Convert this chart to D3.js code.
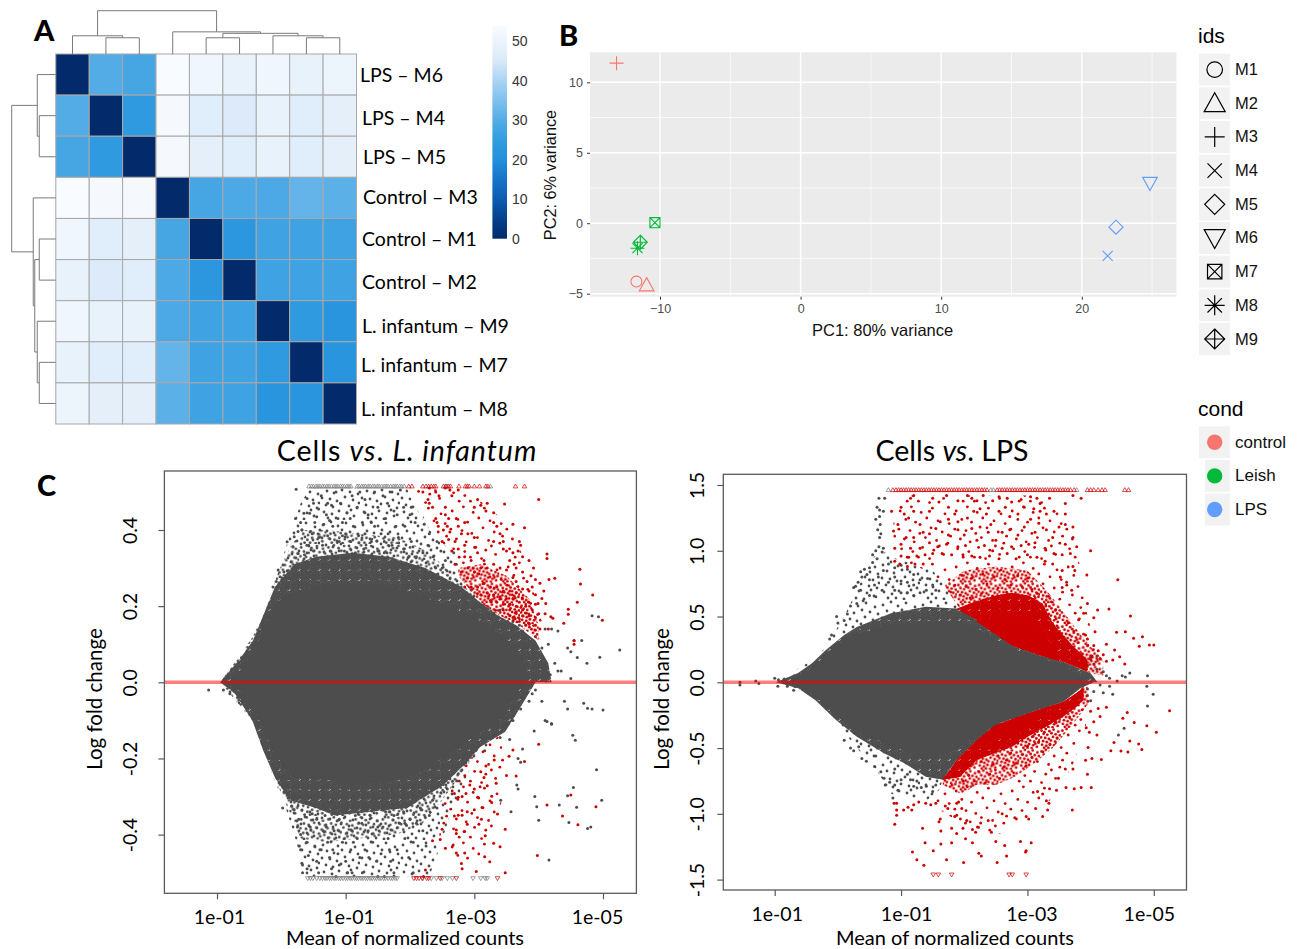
<!DOCTYPE html>
<html><head><meta charset="utf-8">
<script src="https://cdn.jsdelivr.net/npm/d3@7"></script>
<style>html,body{margin:0;padding:0;background:#fff}svg{display:block}
.cal{font-family:Lato,"Open Sans",sans-serif;fill:#000}
.hel{font-family:"Liberation Sans",Arial,sans-serif}
</style></head><body><div id="c"></div>
<script>
// ---------- Panel A data ----------
const rowLabels=["LPS – M6","LPS – M4","LPS – M5","Control – M3","Control – M1","Control – M2","L. infantum – M9","L. infantum – M7","L. infantum – M8"];
const distRow0=[0,30,28,54,51,49,51,49,50];
const distRow1=[30,0,24,53,47,46,49,47,48];
const distRow2=[28,24,0,53,48,47,49,47,48];
const distRow3=[54,53,53,0,28,29,29,32,31];
const distRow4=[51,47,48,28,0,23,27,27,27];
const distRow5=[49,46,47,29,23,0,27,27,27];
const distRow6=[51,49,49,29,27,27,0,24,22];
const distRow7=[49,47,47,32,27,27,24,0,22];
const distRow8=[50,48,48,31,27,27,22,22,0];
const distMatrix=[distRow0,distRow1,distRow2,distRow3,distRow4,distRow5,distRow6,distRow7,distRow8];
const legendTicks=[0,10,20,30,40,50];
const heatStops=[0,5,10,15,20,25,30,35,40,45,50,54];
const heatColors=["#032a6a","#06408c","#0b5cb0","#1474c8","#2390dc","#329ce0","#53ace6","#7dc0ee","#a9d3f3","#d8e8f8","#ecf4fc","#f8fbff"];
const dendroTree={h:44,c:[{h:18.5,c:[0,{h:16.5,c:[1,2]}]},{h:22.5,c:[3,{h:21,c:[{h:16.5,c:[4,5]},{h:18.5,c:[6,{h:16.5,c:[7,8]}]}]}]}]};

// ---------- Panel B data ----------
const pcaIds=["M1","M2","M3","M4","M5","M6","M7","M8","M9"];
const pcaX=[-11.68,-10.95,-13.09,21.84,22.43,24.85,-10.36,-11.6,-11.4];
const pcaY=[-4.14,-4.38,11.36,-2.32,-0.28,2.84,0.04,-1.77,-1.35];
const pcaCond=["control","control","control","LPS","LPS","LPS","Leish","Leish","Leish"];
const condNames=["control","Leish","LPS"];
const condColors=["#F8766D","#00BA38","#619CFF"];
const pcaXTicks=[-10,0,10,20], pcaYTicks=[-5,0,5,10], pcaXMinor=[-5,5,15,25], pcaYMinor=[-2.5,2.5,7.5];

// ---------- Panel C data: [log10 mean axis position, log fold change] ----------
const maTickVals=[1,-1,-3,-5];
const maTickLabels=["1e-01","1e-01","1e-03","1e-05"];
const leftYTicks=[-0.4,-0.2,0,0.2,0.4];
const rightYTicks=[-1.5,-1,-0.5,0,0.5,1,1.5];
// density zones of the left cloud: outlines
const leftSolidTop=[[.8,0],[.6,.04],[.4,.09],[.22,.16],[.05,.21],[-.2,.235],[-.6,.25],[-1.1,.26],[-1.7,.25],[-2.2,.225],[-2.6,.2],[-3,.17],[-3.4,.125],[-3.7,.08],[-3.85,0]];
const leftSolidBottom=[[.8,0],[.6,-.03],[.4,-.08],[.2,-.15],[.05,-.2],[-.2,-.25],[-.6,-.25],[-1.1,-.27],[-1.7,-.26],[-2.2,-.23],[-2.6,-.19],[-3,-.14],[-3.4,-.1],[-3.6,-.04],[-3.8,0]];
const leftCloudTop=[[.95,0],[.66,.058],[.44,.11],[.27,.18],[.1,.25],[-.2,.31],[-.54,.33],[-1.11,.34],[-1.67,.33],[-2.24,.3],[-2.52,.275],[-2.8,.25],[-3.09,.21],[-3.37,.175],[-3.65,.15],[-3.95,.11],[-4.15,.05],[-4.2,0]];
const leftCloudBottom=[[.95,0],[.72,-.03],[.45,-.1],[.28,-.18],[.1,-.25],[-.13,-.31],[-.54,-.33],[-.83,-.35],[-1.39,-.34],[-1.96,-.33],[-2.52,-.27],[-2.86,-.214],[-3.09,-.17],[-3.48,-.13],[-3.7,-.07],[-3.95,0]];
const leftMidTop=[[.95,0],[.44,.12],[.2,.21],[.05,.29],[-.15,.36],[-.35,.4],[-.7,.4],[-1.2,.39],[-1.8,.38],[-2.2,.35],[-2.5,.31],[-2.8,.26],[-3.09,.21],[-3.65,.15],[-4.2,0]];
const leftMidBottom=[[.95,0],[.45,-.1],[.2,-.2],[.03,-.28],[-.15,-.35],[-.3,-.41],[-.7,-.42],[-1.2,-.41],[-1.8,-.4],[-2.2,-.37],[-2.5,-.31],[-2.8,-.24],[-3.09,-.17],[-3.48,-.13],[-3.95,0]];
const leftOuterTop=[[.95,0],[.44,.11],[.27,.18],[.1,.26],[-.1,.37],[-.3,.47],[-.45,.51],[-1.95,.51],[-2.05,.47],[-2.3,.4],[-2.6,.35],[-2.75,.29],[-3.09,.21],[-3.65,.15],[-3.95,.11],[-4.2,0]];
const leftOuterBottom=[[.95,0],[.45,-.1],[.28,-.18],[.1,-.26],[-.05,-.32],[-.2,-.4],[-.3,-.46],[-.38,-.51],[-2.3,-.51],[-2.45,-.44],[-2.6,-.36],[-2.8,-.28],[-3,-.2],[-3.48,-.13],[-3.95,0]];
const leftRedSparseTop=[[-2.1,.51],[-2.9,.5],[-3.3,.45],[-3.65,.38],[-3.85,.28],[-4.05,.16]];
const leftRedSparseBase=[[-2.1,.47],[-2.3,.4],[-2.6,.35],[-2.75,.29],[-3.09,.21],[-3.4,.175],[-3.7,.15],[-4.05,.11]];
const leftRedMidTop=[[-2.75,.3],[-3.1,.31],[-3.5,.28],[-3.85,.22],[-4,.15]];
const leftRedMidBase=[[-2.75,.28],[-3.09,.21],[-3.4,.175],[-3.7,.15],[-4,.11]];
const leftRedLowTop=[[-2.5,-.27],[-2.85,-.22],[-3.1,-.17],[-3.4,-.14]];
const leftRedLowBase=[[-2.45,-.42],[-2.8,-.48],[-3.1,-.48],[-3.35,-.38],[-3.5,-.24]];
const leftGrayUp=[[-.23,.507],[-.4,.483],[-.35,.444],[-.44,.444],[-.26,.396],[-.2,.382],[-.09,.369],[-.32,.4],[-.18,.356],[-.26,.338],[-.04,.29],[.05,.295],[.02,.277],[.13,.25],[.08,.265],[-.5,.47],[-.58,.455],[-.62,.49],[-.7,.44],[-.66,.415],[-.52,.42],[-.48,.39],[-.58,.38],[-.42,.36],[-.36,.335],[-.5,.345],[-.64,.36],[-.72,.385],[-.78,.465],[-.85,.5],[-.92,.47],[-.88,.43],[-.8,.41],[-.95,.42],[-1.02,.445],[-1,.39],[-.9,.37],[-.76,.345],[-.84,.33],[-.98,.345],[-1.08,.37],[-1.12,.41],[-1.18,.46],[-1.1,.49],[-1.22,.5],[-1.3,.48],[-1.35,.44],[-1.26,.42],[-1.2,.385],[-1.3,.39],[-1.15,.34],[-1.28,.35],[-1.4,.37],[-1.45,.41],[-1.5,.46],[-1.45,.5],[-1.58,.49],[-1.65,.47],[-1.62,.43],[-1.55,.39],[-1.66,.39],[-1.5,.345],[-1.6,.34],[-1.72,.36],[-1.78,.41],[-1.75,.45],[-1.72,.5],[-1.85,.505],[-1.9,.46],[-1.82,.38],[-1.9,.35],[-2,.44],[-2.02,.46],[-2.08,.42],[-2.02,.37],[-2.1,.33],[-1.98,.33],[-2.22,.415],[-2.3,.39],[-2.28,.36],[-2.2,.34],[-2.36,.33],[-2.42,.37],[-2.48,.345],[-2.55,.32],[-2.5,.3],[-2.62,.29],[-2.68,.34],[-2.72,.31],[-2.4,.3],[-.6,.4],[-.75,.425],[-.95,.385],[-1.07,.43],[-1.4,.42],[-1.6,.37],[-1.92,.41],[-1.8,.44],[-1.3,.445],[-.72,.47],[-.55,.435],[-.3,.42],[-.22,.43],[-3.4,.19],[-3.55,.175],[-3.7,.15],[-3.75,.135],[-3.85,.11],[-3.95,.12],[-4.05,.09],[-3.9,.06],[-4,.04],[-4.1,.03],[-4.18,.02],[-4.25,.05],[-4.3,.03],[-3.6,.16],[-4.1,.14],[-4.2,.14],[-4.3,.135],[-4.15,.1],[-4.45,.09],[-4.5,.08],[-4.6,.065],[-4.55,.11],[-4.67,.11],[-4.75,.05],[-4.83,.175],[-4.93,.172],[-4.95,.066],[-5.26,.085],[-4.35,.03],[-4.5,.01]];
const leftGrayDown=[[-.45,-.3],[-.3,-.3],[-.2,-.3],[-.2,-.335],[-.16,-.325],[-.05,-.245],[.02,-.25],[.12,-.19],[.18,-.2],[.28,-.15],[.35,-.11],[.45,-.06],[.6,-.05],[.9,-.02],[1.13,-.02],[.8,-.03],[.65,-.035],[-.02,-.33],[-.25,-.38],[-.27,-.36],[-.3,-.4],[-.28,-.43],[-.3,-.44],[-.32,-.475],[-.33,-.48],[-.33,-.5],[-.4,-.49],[-.42,-.455],[-.4,-.42],[-.45,-.38],[-.48,-.345],[-.52,-.43],[-.55,-.47],[-.58,-.5],[-.62,-.44],[-.65,-.39],[-.68,-.35],[-.72,-.42],[-.75,-.46],[-.78,-.49],[-.85,-.51],[-.88,-.45],[-.82,-.39],[-.9,-.36],[-.95,-.42],[-1,-.47],[-1.03,-.5],[-1.08,-.44],[-1.1,-.39],[-1.15,-.35],[-1.18,-.41],[-1.22,-.46],[-1.26,-.5],[-1.3,-.44],[-1.35,-.39],[-1.38,-.35],[-1.42,-.42],[-1.48,-.47],[-1.5,-.51],[-1.55,-.45],[-1.58,-.38],[-1.62,-.34],[-1.66,-.41],[-1.7,-.47],[-1.75,-.5],[-1.8,-.44],[-1.84,-.37],[-1.9,-.34],[-1.92,-.41],[-1.98,-.46],[-2.05,-.42],[-2.1,-.37],[-2.16,-.33],[-2.2,-.39],[-2.25,-.43],[-2.3,-.35],[-2.35,-.31],[-2.42,-.33],[-2.48,-.29],[-2.58,-.28],[-2.66,-.26],[-2.75,-.24],[-2.05,-.5],[-1.6,-.51],[-1.1,-.5],[-.6,-.44],[-.7,-.38],[-1,-.34],[-1.25,-.37],[-1.5,-.38],[-1.75,-.35],[-2,-.36],[-.55,-.36],[-.8,-.44],[-1.12,-.42],[-1.36,-.46],[-.9,-.48],[-1.68,-.44],[-1.92,-.37],[-3.16,-.18],[-3.4,-.145],[-3.5,-.11],[-3.6,-.1],[-3.55,-.15],[-3.72,-.07],[-3.85,-.05],[-3.9,-.03],[-3.95,-.02],[-4.05,-.05],[-4.1,-.1],[-4.2,-.11],[-4.4,-.05],[-4.45,-.07],[-4.7,-.055],[-4.76,-.068],[-4.83,-.07],[-5,-.073],[-4.53,-.139],[-4.57,-.152],[-4.9,-.23],[-4.54,-.276],[-4.45,-.298],[-4.98,-.31],[-4.59,-.328],[-3.94,-.3],[-3.97,-.327],[-4.32,-.322],[-4,-.362],[-4.47,-.368],[-4.76,-.384],[-4.81,-.38],[-4.16,-.467],[-4.13,-.103],[-4.2,-.108],[-3.93,-.128],[-3.66,-.27],[-3.68,-.28],[-3.57,-.34],[-3.41,-.31],[-3.72,-.21],[-3.68,-.2],[-3.75,-.175]];
const leftRedUp=[[-4,.48],[-3.47,.468],[-3.78,.406],[-3.6,.415],[-4.13,.337],[-4.13,.325],[-4.64,.297],[-4.65,.258],[-4.84,.229],[-4.99,.163],[-4.6,.21],[-4.46,.192],[-4.46,.179],[-4.39,.155],[-4.55,.109],[-4.55,.1],[-4.25,.273],[-4.16,.27],[-4.05,.22],[-4.11,.207],[-3.99,.207],[-4.19,.172],[-4.22,.168],[-3.05,.48],[-3.0,.46],[-3.18,.45],[-3.1,.465],[-3.2,.47],[-3.3,.445],[-3.3,.42],[-3.35,.41],[-2.3,.51],[-2.4,.5],[-2.45,.49],[-2.28,.48],[-2.2,.5],[-2.3,.47],[-2.35,.46],[-2.55,.51],[-2.62,.505],[-2.65,.49],[-2.75,.505],[-2.55,.46],[-2.4,.43],[-2.42,.42],[-2.44,.41],[-2.55,.44],[-2.6,.43],[-2.58,.41],[-2.72,.43],[-2.75,.41],[-2.85,.42],[-2.52,.4],[-2.62,.395],[-2.5,.37],[-2.6,.375],[-2.7,.37],[-2.8,.39],[-2.9,.39],[-3.0,.38],[-3.02,.355],[-2.85,.36],[-2.75,.35],[-2.65,.345],[-2.7,.31],[-2.85,.33],[-2.95,.32],[-3.05,.34],[-3.15,.32],[-3.3,.37],[-3.4,.39],[-3.45,.37],[-3.45,.35],[-3.5,.345],[-3.7,.37],[-3.72,.36],[-3.68,.345],[-3.6,.34],[-3.55,.32],[-3.62,.31],[-3.75,.33],[-3.85,.32],[-3.65,.3],[-3.75,.29],[-3.88,.28],[-3.95,.27],[-3.9,.25],[-3.95,.23],[-3.85,.24],[-3.75,.245],[-3.65,.265],[-3.6,.275],[-3.4,.3],[-3.3,.31],[-3.2,.3],[-3.1,.3],[-3,.29],[-2.9,.3],[-2.8,.29],[-2.85,.25],[-2.95,.25],[-3.05,.25],[-3.15,.26],[-3.25,.25],[-3.35,.25],[-3.45,.24],[-3.55,.24],[-3.65,.235],[-3.75,.22],[-3.85,.21],[-3.95,.205],[-3.1,.23],[-3.2,.235],[-3.3,.23],[-3.4,.225],[-3.5,.22],[-3.6,.22],[-3.7,.21],[-3.8,.2],[-3.9,.19],[-3.25,.215],[-3.35,.21],[-3.45,.205],[-3.55,.205],[-3.65,.2],[-3.75,.19],[-3.85,.175],[-3.95,.17],[-3.45,.19],[-3.55,.19],[-3.65,.185],[-3.75,.175],[-3.85,.155],[-3.95,.15],[-3.6,.17],[-3.7,.16],[-3.8,.15],[-3.5,.295],[-3.82,.265],[-3.92,.3],[-4.02,.26],[-4.08,.24],[-4.1,.18],[-4,.18],[-4.02,.14],[-4.15,.14]];
const leftRedDown=[[-4.0,-.163],[-3.78,-.208],[-3.6,-.178],[-3.54,-.194],[-3.31,-.204],[-3.5,-.245],[-3.65,-.246],[-3.34,-.265],[-3.2,-.272],[-3.09,-.274],[-4.13,-.322],[-4.5,-.296],[-4.89,-.327],[-4.37,-.351],[-4.61,-.374],[-3.98,-.455],[-3.48,-.5],[-3.03,-.497],[-3.24,-.471],[-3.16,-.458],[-3.4,-.432],[-3.3,-.423],[-3.17,-.403],[-3.48,-.386],[-3.07,-.373],[-3.11,-.36],[-3.36,-.346],[-3.12,-.329],[-3,-.335],[-3.27,-.316],[-3.27,-.299],[-3.05,-.302],[-2.81,-.3],[-2.87,-.292],[-2.69,-.292],[-2.75,-.302],[-2.69,-.351],[-2.75,-.349],[-2.89,-.34],[-2.81,-.349],[-2.89,-.373],[-2.72,-.388],[-2.84,-.392],[-2.72,-.397],[-2.5,-.386],[-2.47,-.413],[-2.35,-.416],[-2.55,-.436],[-2.67,-.427],[-2.72,-.448],[-2.85,-.448],[-2.8,-.476],[-2.81,-.49],[-2.24,-.493],[-2.21,-.51],[-3,-.28],[-2.93,-.27],[-3.15,-.25],[-3.1,-.235],[-3.18,-.22]];
const leftTriGrayUp=[-.43,-.47,-.5,-.54,-.57,-.6,-.64,-.67,-.71,-.74,-.78,-.82,-.85,-.88,-.92,-.95,-.98,-1.02,-1.05,-1.08,-1.18,-1.21,-1.25,-1.28,-1.31,-1.35,-1.38,-1.42,-1.45,-1.49,-1.52,-1.56,-1.6,-1.63,-1.66,-1.7,-1.74,-1.77,-1.8,-1.84,-1.87,-1.91,-2.55,-2.58,-3.25];
const leftTriRedUp=[-1.98,-2.03,-2.2,-2.25,-2.29,-2.33,-2.37,-2.4,-2.52,-2.56,-2.6,-2.63,-2.76,-2.86,-2.89,-2.92,-3.0,-3.08,-3.18,-3.21,-3.64,-3.78];
const leftTriGrayDown=[-.41,-.45,-.49,-.55,-.6,-.64,-.68,-.71,-.75,-.78,-.82,-.85,-.89,-.92,-.96,-1,-1.03,-1.07,-1.1,-1.14,-1.17,-1.2,-1.24,-1.27,-1.31,-1.34,-1.38,-1.41,-1.45,-1.48,-1.52,-1.55,-1.59,-1.62,-1.66,-1.7,-1.73,-1.77,-1.8,-2.2,-2.33,-2.41,-2.5,-2.58,-2.66,-2.98,-3.1,-3.17,-3.2];
const leftTriRedDown=[-2.06,-2.1,-2.14,-2.19,-2.26,-2.29,-2.47,-2.72,-3.36];
// density zones of the right cloud
const rightSolidTop=[[.75,0],[.6,.05],[.38,.12],[.16,.22],[-.1,.32],[-.3,.37],[-.84,.43],[-1.39,.46],[-1.9,.47],[-2.2,.4],[-2.48,.33],[-2.8,.25],[-3.18,.19],[-3.57,.13],[-3.85,.03],[-3.95,0]];
const rightSolidBottom=[[.8,0],[.5,-.05],[.3,-.13],[0,-.26],[-.3,-.37],[-.73,-.46],[-1.06,-.52],[-1.39,-.58],[-1.66,-.55],[-1.88,-.5],[-2.2,-.41],[-2.58,-.3],[-3.02,-.226],[-3.57,-.13],[-3.8,-.04],[-3.95,0]];
const rightCloudTop=[[.98,0],[.63,.07],[.41,.144],[.19,.246],[-.1,.36],[-.3,.42],[-.84,.525],[-1.39,.575],[-1.93,.56],[-2.2,.474],[-2.48,.373],[-2.8,.27],[-3.18,.208],[-3.57,.157],[-4,.068],[-4.11,0]];
const rightCloudBottom=[[.98,0],[.63,-.046],[.36,-.135],[.03,-.287],[-.3,-.414],[-.73,-.54],[-1.06,-.617],[-1.39,-.718],[-1.66,-.74],[-1.88,-.59],[-2.2,-.44],[-2.58,-.31],[-3.02,-.236],[-3.57,-.147],[-3.84,-.046],[-4.05,0]];
const rightOuterTop=[[.98,0],[.3,.2],[.12,.33],[-.1,.5],[-.3,.7],[-.55,.95],[-.8,1],[-.85,.95],[-1.2,.9],[-1.5,.85],[-1.75,.7],[-1.93,.56],[-2.2,.474],[-4.11,0]];
const rightOuterBottom=[[.98,0],[.3,-.1],[0,-.32],[-.3,-.5],[-.6,-.66],[-.85,-.85],[-1.15,-.88],[-1.4,-.9],[-1.6,-.82],[-1.66,-.74],[-4.05,0]];
const rightRedSparseTop=[[-.88,1.38],[-1.1,1.42],[-3.2,1.42],[-3.6,1.3],[-3.78,1.05],[-3.85,.8],[-3.95,.5],[-4.1,.25]];
const rightRedSparseBase=[[-.88,.95],[-1.4,.85],[-1.75,.7],[-1.93,.56],[-2.2,.474],[-2.8,.27],[-3.57,.157],[-4.1,.068]];
const rightRedMidTop=[[-1.7,.74],[-2,.85],[-2.5,.88],[-3,.85],[-3.3,.7],[-3.5,.58],[-3.75,.42],[-4,.27],[-4.2,.17]];
const rightRedMidBase=[[-1.7,.72],[-1.93,.56],[-2.2,.474],[-2.48,.373],[-2.8,.27],[-3.18,.208],[-3.57,.157],[-4,.068],[-4.2,.05]];
const rightRedDenseTop=[[-1.88,.56],[-2.2,.62],[-2.5,.66],[-2.75,.68],[-3.02,.66],[-3.24,.6],[-3.4,.45],[-3.67,.3],[-3.95,.17]];
const rightRedDenseBase=[[-1.88,.56],[-2.2,.474],[-2.48,.373],[-2.8,.27],[-3.18,.208],[-3.57,.157],[-3.95,.08]];
const rightRedSolidTop=[[-2.2,.48],[-2.48,.48],[-2.75,.5],[-3.02,.5],[-3.2,.42],[-3.35,.3],[-3.5,.22]];
const rightRedSolidBase=[[-2.2,.46],[-2.48,.37],[-2.75,.28],[-3.02,.235],[-3.24,.2],[-3.5,.16]];
const rightLowSparseTop=[[-1.55,-.8],[-1.88,-.59],[-2.2,-.44],[-2.58,-.31],[-3.02,-.236],[-3.57,-.147],[-3.84,-.046]];
const rightLowSparseBase=[[-1.55,-.95],[-2.2,-1.15],[-2.6,-1.15],[-3,-1],[-3.35,-.9],[-3.7,-.65],[-3.9,-.4],[-4,-.1]];
const rightLowMidBase=[[-1.66,-.78],[-1.95,-.85],[-2.2,-.78],[-2.5,-.78],[-2.8,-.72],[-3.1,-.62],[-3.4,-.5],[-3.7,-.33],[-3.95,-.17]];
const rightLowMidTop=[[-1.66,-.74],[-1.88,-.59],[-2.2,-.44],[-2.58,-.31],[-3.02,-.236],[-3.57,-.147],[-3.95,-.03]];
const rightRedBandLow=[[-1.66,-.74],[-1.93,-.72],[-2.2,-.59],[-2.48,-.54],[-2.75,-.49],[-3.02,-.41],[-3.29,-.34],[-3.57,-.26],[-3.78,-.185],[-3.89,-.135]];
const rightRedBandLowBase=[[-1.66,-.74],[-1.9,-.58],[-2.2,-.44],[-2.48,-.33],[-2.75,-.28],[-3.02,-.236],[-3.29,-.19],[-3.57,-.147],[-3.78,-.08],[-3.89,-.03]];
const rightLowSolidBase=[[-2.15,-.5],[-2.48,-.45],[-2.75,-.4],[-3.02,-.33],[-3.25,-.25]];
const rightLowSolidTop=[[-2.15,-.46],[-2.48,-.33],[-2.75,-.28],[-3.02,-.236],[-3.25,-.2]];
const rightGrayUp=[[-.65,1.4],[-.74,1.4],[-.62,1.33],[-.66,1.31],[-.72,1.3],[-.6,1.24],[-.66,1.26],[-.67,1.2],[-.63,1.16],[-.68,1.13],[-.66,1.1],[-.7,.99],[-.6,1],[-.65,1.03],[-.72,1.02],[-.55,.97],[-.62,.94],[-.55,.91],[-.5,.87],[-.42,.86],[-.36,.84],[-.46,.82],[-.38,.8],[-.32,.76],[-.28,.73],[-.36,.7],[-.25,.72],[-.5,.78],[-.58,.74],[-.64,.8],[-.72,.85],[-.8,.9],[-.9,.87],[-1,.89],[-1.1,.86],[-1.2,.82],[-.9,.8],[-1,.77],[-1.1,.76],[-1.2,.74],[-1.3,.78],[-1.42,.79],[-1.5,.74],[-1.55,.7],[-1.4,.7],[-1.3,.68],[-1.2,.66],[-1.1,.68],[-1,.68],[-.9,.7],[-.8,.76],[-.7,.7],[-.6,.65],[-.5,.66],[-.4,.62],[-.3,.6],[-.2,.58],[-.15,.52],[-.1,.47],[0,.45],[.02,.5],[.1,.36],[.13,.33],[-3.85,.16],[-3.95,.13],[-4.05,.14],[-4.1,.1],[-4.2,.08],[-4.25,.05],[-4.3,.03],[-4.42,.01],[-4.55,.04],[-4.62,.07],[-4.5,.05],[-4.9,.05],[-4.1,.2],[-4,.19],[1.3,.01],[1.55,0],[1.0,.03],[.94,.02],[.85,.02],[.72,.03]];
const rightGrayDown=[[-.95,-.82],[-.87,-.88],[-.73,-.73],[-.75,-.78],[-.82,-.76],[-.9,-.78],[-.68,-.68],[-.58,-.64],[-.45,-.6],[-.38,-.58],[-.33,-.49],[-.2,-.5],[-.1,-.44],[-.25,-.52],[-1.0,-.74],[-1.1,-.7],[-1.15,-.74],[-1.25,-.75],[-1.32,-.8],[-1.4,-.79],[-1.5,-.83],[-1.55,-.78],[-1.2,-.79],[-.6,-.56],[-.9,-.66],[-4.9,-.18],[-4.99,-.09],[-4.89,-.03],[-4.53,-.35],[-4.44,-.4],[-4.35,-.09],[-4.2,-.08],[-4.05,-.07],[-4.3,-.03],[-4.15,-.02],[-3.95,-.05],[-3.95,-.1],[-4,-.14],[-3.85,-.1],[1.55,-.02],[1.25,-.01],[.95,-.03],[.8,-.03],[.7,-.06]];
const rightRedUp=[[-4,1],[-3.94,.815],[-4.43,.78],[-4.63,.505],[-4.55,.385],[-4.41,.38],[-4.68,.335],[-4.82,.347],[-4.77,.275],[-4.93,.283],[-5,.283],[-4.29,.557],[-4.11,.55],[-4.05,.49],[-3.95,.6],[-3.81,.475],[-3.89,.525],[-4.07,.385],[-3.92,.36],[-4.25,.29],[-4.38,.245],[-4.35,.17],[-4.46,.195],[-4.54,.14],
[-3.72,1.42],[-3.85,1.4],[-1.2,1.42],[-1.15,1.4],[-1.5,1.4],[-1.72,1.42],[-1.9,1.38],[-2.05,1.42],[-2.12,1.4],[-2.2,1.38],[-2.3,1.42],[-2.45,1.38],[-2.55,1.41],[-2.68,1.4],[-2.75,1.37],[-2.9,1.39],[-3.05,1.41],[-3.15,1.4],[-3.2,1.36],[-3.35,1.4],[-3.6,1.36],[-1.0,1.33],[-.85,1.3],[-1.05,1.28],[-1.2,1.3],[-1.3,1.2],[-.95,1.2],[-.88,1.15],[-1.12,1.25],[-1.45,1.3],[-1.6,1.37],[-1.75,1.33],[-1.85,1.28],[-1.62,1.22],[-1.75,1.24],[-1.9,1.22],[-2.05,1.25],[-2.15,1.3],[-2.25,1.32],[-2.35,1.28],[-2.42,1.2],[-2.55,1.3],[-2.65,1.33],[-2.72,1.26],[-2.85,1.28],[-2.95,1.33],[-3.1,1.32],[-3.2,1.3],[-3.05,1.24],[-3.18,1.21],[-3.3,1.28],[-3.42,1.3],[-3.6,1.28],[-3.6,1.2],[-3.5,1.18],[-3.72,1.18],[-3.72,1.1],[-3.6,1.05],[-3.4,1.1],[-3.3,1.16],[-3.12,1.14],[-2.95,1.18],[-2.85,1.12],[-2.72,1.16],[-2.6,1.14],[-2.5,1.08],[-2.38,1.14],[-2.25,1.18],[-2.12,1.17],[-2.0,1.12],[-1.9,1.16],[-1.75,1.12],[-1.55,1.17],[-1.45,1.13],[-1.35,1.14],[-1.2,1.1],[-1.08,1.1],[-1.0,1.05],[-.9,1.02],[-1.15,1.02],[-1.3,1.02],[-1.45,1.06],[-1.58,1.03],[-1.72,1.05],[-1.9,1.03],[-2.02,1.04],[-2.2,1.08],[-2.32,1.04],[-2.45,1],[-2.6,1.02],[-2.75,1.03],[-2.9,1.04],[-3.02,1.05],[-3.12,1.06],[-3.28,1.02],[-3.42,.98],[-3.55,.97],[-3.68,.98],[-3.78,1.03],[-3.72,.88],[-3.75,.85],[-3.55,.85],[-3.4,.9],[-3.28,.92],[-3.15,.95],[-3.0,.97],[-2.82,.94],[-2.68,.98],[-2.55,.94],[-2.4,.96],[-2.25,.95],[-2.12,.96],[-1.98,.97],[-1.8,.97],[-1.65,.98],[-1.5,.98],[-1.38,.97],[-1.25,.96],[-1.12,.95],[-1,.96],[-.9,.92],[-.98,.9],[-1.1,.88],[-1.22,.9],[-1.35,.9],[-3.52,.8],[-3.62,.76],[-3.7,.7],[-3.55,.72],[-3.95,.33],[-4.05,.28],[-4.12,.24],[-4.2,.21],[-4.02,.2],[-4.15,.18],[-4.25,.16]];
const rightRedDown=[[-.89,-.92],[-.93,-.92],[-.93,-.97],[-.93,-1.01],[-.9,-1.08],[-1.04,-.97],[-1.11,-.95],[-1.17,-.97],[-1.2,-.93],[-1.28,-.91],[-1.39,-.92],[-1.47,-.93],[-1.55,-.92],[-1.7,-.94],[-1.74,-.96],[-1.88,-.92],[-1.91,-.91],[-1.96,-.96],[-1.34,-1.11],[-1.38,-1.22],[-1.18,-1.29],[-1.25,-1.35],[-1.36,-1.39],[-1.51,-1.28],[-1.63,-1.23],[-1.8,-1.22],[-1.72,-1.35],[-1.99,-1.37],[-1.63,-1.13],[-1.8,-1.11],[-1.88,-1.15],[-1.6,-1.06],[-1.62,-1.04],[-1.85,-1.02],[-1.88,-1.01],[-2.02,-1.07],[-2.04,-1.05],[-1.98,-1.11],[-2.13,-1.12],[-2.18,-1.14],[-2.21,-1.1],[-2.26,-1.07],[-2.38,-1.05],[-2.43,-1.14],[-2.02,-1.19],[-2.13,-1.22],[-2.23,-1.3],[-2.27,-1.32],[-2.5,-1.21],[-2.64,-1.24],[-2.67,-1.32],[-2.52,-1.37],[-2.89,-1.21],[-3.06,-1.22],[-2.98,-1.28],[-2.97,-1.29],[-2.6,-1],[-2.8,-1.03],[-2.98,-1.02],[-3.02,-1.04],[-3.24,-1.02],[-3.13,-.96],[-3.32,-.97],[-3.34,-.92],[-3.3,-.9],[-3.71,-.97],[-3.24,-.85],[-3.16,-.83],[-3.35,-.81],[-3.46,-.82],[-3.61,-.8],[-3.74,-.81],[-3.85,-.8],[-4.01,-.8],[-3.95,-.7],[-3.72,-.66],[-3.6,-.66],[-3.49,-.73],[-5.25,-.216],[-5.04,-.38],[-4.89,-.33],[-4.81,-.51],[-4.76,-.47],[-4.62,-.447],[-4.69,-.305],[-4.58,-.229],[-4.51,-.274],[-4.59,-.53],[-4.48,-.523],[-4.32,-.52],[-4.37,-.457],[-4.17,-.587],[-4.02,-.579],[-3.92,-.592],[-3.96,-.495],[-3.93,-.345],[-3.98,-.38],[-4.1,-.4],[-4.05,-.3],[-4.15,-.26],[-4.12,-.2],[-4.25,-.19],[-4.0,-.22]];
const rightTriGrayUp=[-.8,-2.42,-2.46,-3.78];
const rightTriRedUp=[-.87,-.92,-.96,-1,-1.04,-1.08,-1.12,-1.16,-1.2,-1.24,-1.28,-1.32,-1.36,-1.4,-1.44,-1.48,-1.52,-1.56,-1.6,-1.64,-1.68,-1.72,-1.76,-1.8,-1.84,-1.88,-1.92,-1.96,-2,-2.04,-2.08,-2.12,-2.16,-2.2,-2.24,-2.28,-2.32,-2.36,-2.52,-2.56,-2.6,-2.64,-2.68,-2.72,-2.76,-2.8,-2.84,-2.88,-2.92,-2.96,-3,-3.04,-3.08,-3.12,-3.16,-3.2,-3.24,-3.28,-3.32,-3.36,-3.4,-3.44,-3.48,-3.52,-3.56,-3.6,-3.64,-3.68,-3.74,-3.95,-4,-4.05,-4.12,-4.18,-4.23,-4.54,-4.6];
const rightTriRedDown=[-1.51,-1.59,-1.8,-2.71,-2.76,-2.98];

const W=1302,H=949;
const svg=d3.select("#c").append("svg").attr("width",W).attr("height",H);
const defs=svg.append("defs");
defs.append("filter").attr("id","soft").append("feGaussianBlur").attr("stdDeviation",.45);

// speckle textures for the over-plotted density zones
const speckle=[[3,5],[11,2],[18,6],[26,3],[35,7],[7,11],[14,13],[22,10],[30,12],[38,14],[2,18],[10,19],[17,21],[25,17],[33,20],[6,25],[13,27],[21,24],[29,26],[37,28],[4,32],[12,34],[19,31],[27,33],[34,36],[8,38],[16,38],[24,39],[31,30],[39,23]];
function texture(id,col,s){
 const p=defs.append("pattern").attr("id",id).attr("patternUnits","userSpaceOnUse").attr("width",40*s).attr("height",40*s);
 p.selectAll("circle").data(speckle).join("circle").attr("cx",d=>d[0]*s).attr("cy",d=>d[1]*s).attr("r",1.4).attr("fill",col);
}
[["g","#4d4d4d"],["r","#cc0000"]].forEach(c=>{texture(c[0]+"X",c[1],1.4);texture(c[0]+"S",c[1],1);texture(c[0]+"N",c[1],.68);texture(c[0]+"M",c[1],.52);texture(c[0]+"D",c[1],.25);});

// ---------- Panel A ----------
(function(){
 const x=d3.scaleBand().domain(d3.range(9)).range([55.8,356.5]);
 const y=d3.scaleBand().domain(d3.range(9)).range([54,424]);
 const col=d3.scaleLinear().domain(heatStops).range(heatColors).clamp(true);
 const g=svg.append("g");
 const cells=distMatrix.flatMap((r,i)=>r.map((v,j)=>({i,j,v})));
 g.selectAll("rect.c").data(cells).join("rect").attr("class","c")
  .attr("x",d=>x(d.j)).attr("y",d=>y(d.i)).attr("width",x.bandwidth()).attr("height",y.bandwidth())
  .attr("fill",d=>col(d.v)).attr("stroke","#a8a8a8").attr("stroke-width",1);
 const topH=d3.scaleLinear().domain([0,44]).range([54,10.7]);
 const leftH=d3.scaleLinear().domain([0,44]).range([55.8,11.7]);
 function walk(n,pos,seg){
   if(typeof n==="number") return {p:pos(n),h:0};
   const k=n.c.map(c=>walk(c,pos,seg));
   seg(k[0].p,k[1].p,k[0].h,k[1].h,n.h);
   return {p:(k[0].p+k[1].p)/2,h:n.h};
 }
 const dg=g.append("g").attr("fill","none").attr("stroke","#7a7a7a").attr("stroke-width",1);
 walk(dendroTree,i=>x(i)+x.bandwidth()/2,(a,b,ha,hb,h)=>{
   dg.append("path").attr("d",`M${a},${topH(ha)}V${topH(h)}H${b}V${topH(hb)}`);});
 walk(dendroTree,i=>y(i)+y.bandwidth()/2,(a,b,ha,hb,h)=>{
   dg.append("path").attr("d",`M${leftH(ha)},${a}H${leftH(h)}V${b}H${leftH(hb)}`);});
 const lx=[360,362,363,363,362,362,362,361,361], ly=[75,118,157,197,239,282,326,365,409];
 g.selectAll("text.r").data(rowLabels).join("text").attr("class","cal r")
  .attr("x",(d,i)=>lx[i]).attr("y",(d,i)=>ly[i]+7).attr("font-size",19.5).text(d=>d);
 const s=d3.scaleLinear().domain([0,50]).range([238.7,41.3]);
 const dom=[53.9,0];
 const gr=defs.append("linearGradient").attr("id","hb").attr("x1",0).attr("x2",0).attr("y1",1).attr("y2",0);
 heatStops.forEach((v,i)=>gr.append("stop").attr("offset",v/54).attr("stop-color",heatColors[i]));
 g.append("rect").attr("x",492.4).attr("width",14.6).attr("y",s(dom[0])).attr("height",s(dom[1])-s(dom[0])).attr("fill","url(#hb)");
 const ax=g.append("g").attr("transform","translate(507,0)").call(d3.axisRight(s).tickValues(legendTicks).tickSize(0).tickPadding(5));
 ax.select(".domain").remove();
 ax.selectAll("text").attr("class","hel").attr("font-size",14).attr("fill","#333");
})();

[["A",34,41],["B",559,46],["C",37,496]].forEach(d=>svg.append("text").attr("class","cal").attr("x",d[1]).attr("y",d[2]).attr("font-size",29).attr("font-weight",900).text(d[0]));

function shapePath(id,r){
 const t=r*1.05, h=r;
 const P=(a,b)=>`M${a[0]},${a[1]}L${b[0]},${b[1]}`;
 const circ=`M${-r*.78},0A${r*.78},${r*.78} 0 1 0 ${r*.78},0A${r*.78},${r*.78} 0 1 0 ${-r*.78},0Z`;
 const plus=P([-h,0],[h,0])+P([0,-h],[0,h]);
 const k=h*.72, cross=P([-k,-k],[k,k])+P([-k,k],[k,-k]);
 const diamond=`M0,${-h}L${h},0L0,${h}L${-h},0Z`;
 const sq=`M${-k},${-k}H${k}V${k}H${-k}Z`;
 switch(id){
  case"M1":return circ;
  case"M2":return `M0,${-t}L${t},${t*.8}H${-t}Z`;
  case"M3":return plus;
  case"M4":return cross;
  case"M5":return diamond;
  case"M6":return `M0,${t}L${t},${-t*.8}H${-t}Z`;
  case"M7":return sq+cross;
  case"M8":return plus+cross;
  case"M9":return diamond+plus;
 }
}

// ---------- Panel B ----------
(function(){
 const x=d3.scaleLinear().domain([-10,20]).range([660,1081.8]);
 const y=d3.scaleLinear().domain([-5,10]).range([293.7,82.3]);
 const L=590,R=1176.5,T=52.3,B=296.7;
 const g=svg.append("g");
 g.append("rect").attr("x",L).attr("y",T).attr("width",R-L).attr("height",B-T).attr("fill","#ebebeb");
 g.selectAll("line.mx").data(pcaXMinor).join("line").attr("x1",x).attr("x2",x).attr("y1",T).attr("y2",B).attr("stroke","#fff").attr("stroke-width",.7);
 g.selectAll("line.my").data(pcaYMinor).join("line").attr("y1",y).attr("y2",y).attr("x1",L).attr("x2",R).attr("stroke","#fff").attr("stroke-width",.7);
 g.selectAll("line.Mx").data(pcaXTicks).join("line").attr("x1",x).attr("x2",x).attr("y1",T).attr("y2",B).attr("stroke","#fff").attr("stroke-width",1.4);
 g.selectAll("line.My").data(pcaYTicks).join("line").attr("y1",y).attr("y2",y).attr("x1",L).attr("x2",R).attr("stroke","#fff").attr("stroke-width",1.4);
 const ax=g.append("g").attr("transform",`translate(0,${B})`).call(d3.axisBottom(x).tickValues(pcaXTicks).tickSize(3).tickPadding(4));
 const ay=g.append("g").attr("transform",`translate(${L},0)`).call(d3.axisLeft(y).tickValues(pcaYTicks).tickSize(3).tickPadding(4));
 [ax,ay].forEach(a=>{a.select(".domain").remove();a.selectAll("line").attr("stroke","#333");a.selectAll("text").attr("class","hel").attr("font-size",12.5).attr("fill","#4d4d4d");});
 const cc=d3.scaleOrdinal(condNames,condColors);
 g.selectAll("path.p").data(pcaIds).join("path").attr("class","p")
  .attr("transform",(d,i)=>`translate(${x(pcaX[i])},${y(pcaY[i])})`)
  .attr("d",d=>shapePath(d,7)).attr("fill","none").attr("stroke",(d,i)=>cc(pcaCond[i])).attr("stroke-width",1.1);
 g.append("text").attr("class","hel").attr("x",882.6).attr("y",336).attr("text-anchor","middle").attr("font-size",16.5).attr("fill","#111").text("PC1: 80% variance");
 g.append("text").attr("class","hel").attr("transform","translate(556,175) rotate(-90)").attr("text-anchor","middle").attr("font-size",16.3).attr("fill","#111").text("PC2: 6% variance");
 const lg=svg.append("g");
 lg.append("text").attr("class","hel").attr("x",1198).attr("y",43).attr("font-size",21).attr("fill","#000").text("ids");
 const ky=d3.scaleLinear().domain([0,8]).range([69.6,339]);
 lg.selectAll("rect.k").data(pcaIds).join("rect").attr("x",1199).attr("width",31).attr("y",(d,i)=>ky(i)-16).attr("height",32).attr("fill","#f2f2f2");
 lg.selectAll("path.k").data(pcaIds).join("path").attr("transform",(d,i)=>`translate(1214.7,${ky(i)})`).attr("d",d=>shapePath(d,10)).attr("fill","none").attr("stroke","#000").attr("stroke-width",1.2);
 lg.selectAll("text.k").data(pcaIds).join("text").attr("class","hel").attr("x",1235).attr("y",(d,i)=>ky(i)+5.5).attr("font-size",16.5).attr("fill","#111").text(d=>d);
 lg.append("text").attr("class","hel").attr("x",1198).attr("y",416).attr("font-size",21).attr("fill","#000").text("cond");
 const cy=d3.scaleLinear().domain([0,2]).range([442.3,509.5]);
 lg.selectAll("rect.q").data(condNames).join("rect").attr("x",(d,i)=>i?1205:1199).attr("width",(d,i)=>i?25:31).attr("y",(d,i)=>cy(i)-16).attr("height",32).attr("fill","#f2f2f2");
 lg.selectAll("circle.q").data(condNames).join("circle").attr("cx",1214.7).attr("cy",(d,i)=>cy(i)).attr("r",7.7).attr("fill",d=>cc(d));
 lg.selectAll("text.q").data(condNames).join("text").attr("class","hel").attr("x",1235).attr("y",(d,i)=>cy(i)+5.5).attr("font-size",17).attr("fill","#111").text(d=>d);
})();

// ---------- Panel C ----------
function maPlot(o){
 const g=svg.append("g");
 const marks=g.append("g").attr("filter","url(#soft)");
 const x=d3.scaleLinear().domain([1,-5]).range(o.xr);
 const y=d3.scaleLinear().domain([0,o.yv]).range([682.3,o.yp]);
 const GR="#4d4d4d", RD="#cc0000";
 const zone=(a,b,c)=>{const pts=a.concat(b.slice().reverse());
   marks.append("path").attr("d",d3.line().x(d=>x(d[0])).y(d=>y(d[1]))(pts)+"Z").attr("fill",c);};
 const dots=(arr,c)=>marks.append("g").selectAll("circle").data(arr).join("circle").attr("cx",d=>x(d[0])).attr("cy",d=>y(d[1])).attr("r",1.5).attr("fill",c);
 const tri=(arr,lev,down,c)=>marks.append("g").selectAll("path").data(arr).join("path")
   .attr("transform",d=>`translate(${x(d)},${y(lev)})${down?" rotate(180)":""}`)
   .attr("d",d3.symbol(d3.symbolTriangle,9)).attr("fill","none").attr("stroke",c).attr("stroke-width",.7);
 o.grayZones.forEach(z=>zone(z[0],z[1],z[2]));
 o.gray.forEach(a=>dots(a,GR));
 o.redZones.forEach(z=>zone(z[0],z[1],z[2]));
 o.red.forEach(a=>dots(a,RD));
 tri(o.triGU,o.lev,false,"#777");tri(o.triRU,o.lev,false,RD);
 if(o.triGD)tri(o.triGD,-o.lev,true,"#777");
 tri(o.triRD,-o.lev,true,RD);
 g.append("line").attr("x1",o.box[0]).attr("x2",o.box[1]).attr("y1",y(0)).attr("y2",y(0)).attr("stroke","#ff0000").attr("stroke-opacity",.5).attr("stroke-width",3.5);
 g.append("rect").attr("x",o.box[0]).attr("y",o.box[2]).attr("width",o.box[1]-o.box[0]).attr("height",o.box[3]-o.box[2]).attr("fill","none").attr("stroke","#5a5a5a").attr("stroke-width",1.3);
 const ax=g.append("g").attr("transform",`translate(0,${o.box[3]})`).call(d3.axisBottom(x).tickValues(maTickVals).tickFormat((d,i)=>maTickLabels[i]).tickSize(6).tickPadding(11));
 const ay=g.append("g").attr("transform",`translate(${o.box[0]},0)`).call(d3.axisLeft(y).tickValues(o.yt).tickFormat(d=>(d<0?"-":"")+d3.format(".1f")(Math.abs(d))).tickSize(6));
 [ax,ay].forEach(a=>{a.select(".domain").remove();a.selectAll("line").attr("stroke","#5a5a5a").attr("stroke-width",1.2);a.selectAll("text").attr("class","cal").attr("font-size",19.5).attr("fill","#000");});
 ax.selectAll("text").attr("dx",(d,i)=>o.tickDx[i]);
 ay.selectAll("text").attr("transform","rotate(-90)").attr("x",0).attr("dy",0).attr("y",o.yTickY).attr("text-anchor","middle");
 g.append("text").attr("class","cal").attr("x",o.xlab).attr("y",945).attr("text-anchor","middle").attr("font-size",20).text("Mean of normalized counts");
 g.append("text").attr("class","cal").attr("transform",`translate(${o.ylab},699) rotate(-90)`).attr("text-anchor","middle").attr("font-size",20.5).text("Log fold change");
 const t=g.append("text").attr("class","cal").attr("x",o.tx).attr("y",461).attr("text-anchor","middle").attr("font-size",28.5).attr("letter-spacing",o.tls);
 o.title.forEach(s=>t.append("tspan").attr("font-style",s[1]?"italic":"normal").text(s[0]));
}
maPlot({xr:[217,603],yv:0.4,yp:530,box:[164.4,636.4,471,893.3],yt:leftYTicks,lev:.514,tickDx:[2,3,-4,-6],yTickY:-27,tls:1,
 grayZones:[[leftOuterTop,leftOuterBottom,"url(#gS)"],[leftMidTop,leftMidBottom,"url(#gN)"],[leftCloudTop,leftCloudBottom,"url(#gD)"],[leftSolidTop,leftSolidBottom,"#4d4d4d"]],
 gray:[leftGrayUp,leftGrayDown],
 redZones:[[leftRedSparseTop,leftRedSparseBase,"url(#rX)"],[leftRedMidTop,leftRedMidBase,"url(#rM)"],[leftRedLowTop,leftRedLowBase,"url(#rX)"]],
 red:[leftRedUp,leftRedDown],
 triGU:leftTriGrayUp,triRU:leftTriRedUp,triGD:leftTriGrayDown,triRD:leftTriRedDown,
 xlab:405,ylab:102,tx:407,title:[["Cells ",0],["vs",1],[". ",0],["L. infantum",1]]});
maPlot({xr:[774.7,1153.8],yv:1.5,yp:485,box:[723.3,1186.5,474.3,890],yt:rightYTicks,lev:1.46,tickDx:[2,5,4,-5],yTickY:-19,tls:0,
 grayZones:[[rightOuterTop,rightOuterBottom,"url(#gS)"],[rightCloudTop,rightCloudBottom,"url(#gD)"],[rightSolidTop,rightSolidBottom,"#4d4d4d"]],
 gray:[rightGrayUp,rightGrayDown],
 redZones:[[rightRedSparseTop,rightRedSparseBase,"url(#rX)"],[rightRedMidTop,rightRedMidBase,"url(#rM)"],[rightRedDenseTop,rightRedDenseBase,"url(#rD)"],[rightRedSolidTop,rightRedSolidBase,"#cc0000"],
  [rightLowSparseTop,rightLowSparseBase,"url(#rX)"],[rightLowMidTop,rightLowMidBase,"url(#rM)"],[rightRedBandLowBase,rightRedBandLow,"url(#rD)"],[rightLowSolidTop,rightLowSolidBase,"#cc0000"]],
 red:[rightRedUp,rightRedDown],
 triGU:rightTriGrayUp,triRU:rightTriRedUp,triRD:rightTriRedDown,
 xlab:955,ylab:669,tx:952,title:[["Cells ",0],["vs",1],[". LPS",0]]});
</script></body></html>
